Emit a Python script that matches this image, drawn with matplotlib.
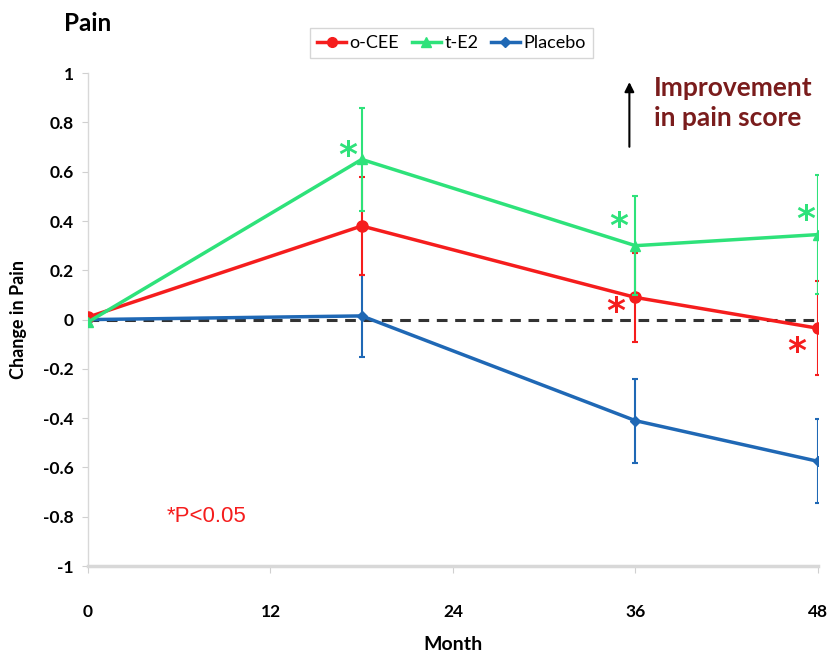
import matplotlib
matplotlib.use("Agg")
import matplotlib.pyplot as plt
from matplotlib.lines import Line2D

plt.rcParams['font.family'] = ['Lato', 'DejaVu Sans']

months = [0, 18, 36, 48]
cee = [0.01, 0.38, 0.09, -0.035]
cee_err = [0.0, 0.20, 0.18, 0.19]
te2 = [-0.01, 0.65, 0.30, 0.345]
te2_err = [0.0, 0.21, 0.20, 0.24]
placebo = [0.0, 0.015, -0.41, -0.575]
placebo_err = [0.0, 0.165, 0.17, 0.17]

x_ticks = [0, 12, 24, 36, 48]
y_ticks = [-1, -0.8, -0.6, -0.4, -0.2, 0, 0.2, 0.4, 0.6, 0.8, 1]
y_labels = ['-1', '-0.8', '-0.6', '-0.4', '-0.2', '0', '0.2', '0.4', '0.6', '0.8', '1']

# significance markers: (month, value, colour)
stars = [(17.1, 0.665, 'te2'), (34.9, 0.375, 'te2'), (47.2, 0.405, 'te2'),
         (34.7, 0.03, 'cee'), (46.6, -0.13, 'cee')]

RED = '#f51d1d'
GREEN = '#2ee27a'
BLUE = '#1f68b5'
colors = {'cee': RED, 'te2': GREEN}

fig = plt.figure(figsize=(8.3, 6.59), dpi=100)
ax = fig.add_axes([0.106, 0.141, 0.8795, 0.748])

ax.plot([0, 48], [0, 0], color='#333333', ls=(0, (3.5, 2.5)), lw=2.2, zorder=2)

ax.errorbar(months, placebo, yerr=placebo_err, color=BLUE, marker='D', ms=5,
            lw=2.5, elinewidth=1.5, capsize=2.5, capthick=1.5, zorder=3)
ax.errorbar(months, cee, yerr=cee_err, color=RED, marker='o', ms=8,
            lw=2.5, elinewidth=1.5, capsize=2.5, capthick=1.5, zorder=4)
ax.errorbar(months, te2, yerr=te2_err, color=GREEN, marker='^', ms=7,
            lw=2.5, elinewidth=1.5, capsize=2.5, capthick=1.5, zorder=5)

for mx, my, key in stars:
    ax.text(mx, my, '*', color=colors[key], fontsize=26, fontweight='bold',
            ha='center', va='center', family='DejaVu Sans')

ax.text(5.2, -0.80, '*P<0.05', color=RED, fontsize=16, family='Liberation Sans',
        ha='left', va='center')

ax.annotate('', xy=(35.6, 0.975), xytext=(35.6, 0.69),
            arrowprops=dict(arrowstyle='-|>', color='black', lw=1.5, mutation_scale=14))
ax.text(37.2, 0.99, 'Improvement\nin pain score', color='#7a1c1c', fontsize=19,
        fontweight='bold', ha='left', va='top', linespacing=1.3)

ax.set_xlim(0, 48)
ax.set_ylim(-1, 1)
ax.set_xticks(x_ticks)
ax.set_xticklabels([str(t) for t in x_ticks], fontweight='bold', fontsize=12.5)
ax.set_yticks(y_ticks)
ax.set_yticklabels(y_labels, fontweight='bold', fontsize=12.5)
ax.tick_params(axis='x', length=5, color='#d0d0d0', pad=22)
ax.tick_params(axis='y', length=4, color='#d0d0d0', pad=6)

for side in ['top', 'right']:
    ax.spines[side].set_visible(False)
ax.spines['left'].set_color('#d8d8d8')
ax.spines['left'].set_linewidth(1.0)
ax.spines['bottom'].set_color('#d8d8d8')
ax.spines['bottom'].set_linewidth(2.5)

ax.set_xlabel('Month', fontweight='bold', fontsize=14, labelpad=12)
ax.set_ylabel('Change in Pain', fontweight='bold', fontsize=13, labelpad=12)

handles = [
    Line2D([], [], color=RED, marker='o', ms=7, lw=2.5),
    Line2D([], [], color=GREEN, marker='^', ms=7, lw=2.5),
    Line2D([], [], color=BLUE, marker='D', ms=5, lw=2.5),
]
leg = fig.legend(handles, ['o-CEE', 't-E2', 'Placebo'],
                 loc='center', bbox_to_anchor=(0.544, 0.935), ncol=3, fontsize=13,
                 frameon=True, fancybox=False, edgecolor='#cccccc',
                 handlelength=1.6, handletextpad=0.2, columnspacing=0.7,
                 borderpad=0.4)
leg.get_frame().set_linewidth(1.0)

fig.text(0.077, 0.965, 'Pain', fontweight='bold', fontsize=17.5, ha='left', va='center')

fig.savefig('out.png', dpi=100)
